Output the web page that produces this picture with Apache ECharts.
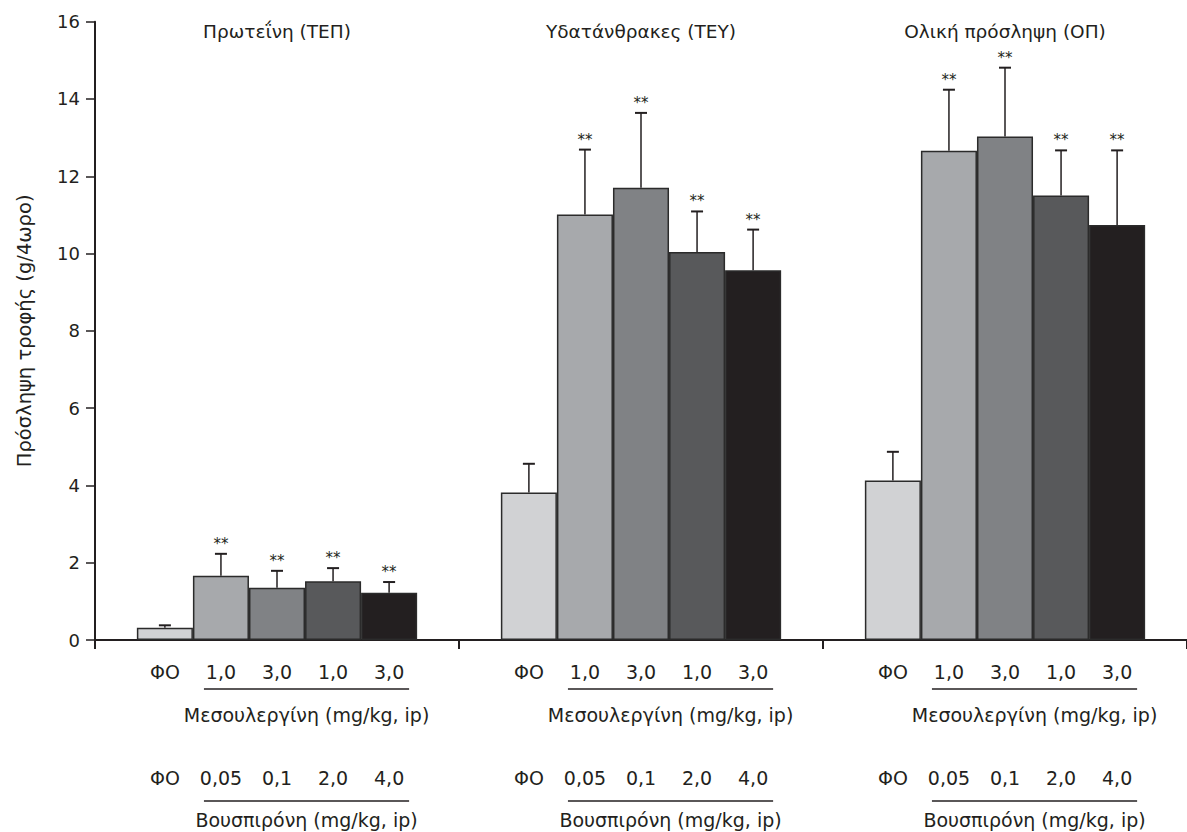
<!DOCTYPE html>
<html>
<head>
<meta charset="utf-8">
<script src="https://cdn.jsdelivr.net/npm/echarts@6/dist/echarts.min.js"></script>
<style>
  html, body { margin: 0; padding: 0; background: #fff; }
  #chart { width: 1187px; height: 832px; }
</style>
</head>
<body>
<div id="chart"></div>
<script>
// ---- data ----------------------------------------------------------------
const groups = ['Πρωτεΐνη (ΤΕΠ)', 'Υδατάνθρακες (ΤΕΥ)', 'Ολική πρόσληψη (ΟΠ)'];

const seriesNames = [
  'ΦΟ',
  'Μεσουλεργίνη 1,0 / Βουσπιρόνη 0,05',
  'Μεσουλεργίνη 3,0 / Βουσπιρόνη 0,1',
  'Μεσουλεργίνη 1,0 / Βουσπιρόνη 2,0',
  'Μεσουλεργίνη 3,0 / Βουσπιρόνη 4,0'
];

// mean intake (g / 4 h) per group
const meanFO = [0.32, 3.82, 4.13];
const meanD1 = [1.66, 11.01, 12.66];
const meanD2 = [1.35, 11.70, 13.03];
const meanD3 = [1.52, 10.04, 11.50];
const meanD4 = [1.22, 9.57, 10.74];

// standard error per group
const semFO = [0.06, 0.74, 0.74];
const semD1 = [0.57, 1.68, 1.58];
const semD2 = [0.44, 1.94, 1.78];
const semD3 = [0.34, 1.05, 1.17];
const semD4 = [0.28, 1.05, 1.93];

const significance = ['', '**', '**', '**', '**'];

const mesDoses = ['ΦΟ', '1,0', '3,0', '1,0', '3,0'];
const busDoses = ['ΦΟ', '0,05', '0,1', '2,0', '4,0'];
const mesTitle = 'Μεσουλεργίνη (mg/kg, ip)';
const busTitle = 'Βουσπιρόνη (mg/kg, ip)';

const yMin = 0, yMax = 16, yStep = 2;
const yName = 'Πρόσληψη τροφής (g/4ωρο)';

// ---- style ---------------------------------------------------------------
const INK = '#231f20';
const FONT = 'DejaVu Sans';
const LABEL_SIZE = 19;
const TITLE_SIZE = 18.5;
const barColors = ['#d1d2d4', '#a7a9ac', '#808285', '#58595b', '#231f20'];
const CAT_GAP = 0.23;

const means = [meanFO, meanD1, meanD2, meanD3, meanD4];
const sems = [semFO, semD1, semD2, semD3, semD4];

// per-row layout below the axis (offsets from the zero line, px)
const rowLayout = [
  { doses: mesDoses, title: mesTitle, doseDy: 32, lineDy: 49, titleDy: 75 },
  { doses: busDoses, title: busTitle, doseDy: 138, lineDy: 161, titleDy: 180 }
];

function barCenters(api, g) {
  const band = api.size([1, 0])[0];
  const barW = band * (1 - CAT_GAP) / 5;
  const c = api.coord([g, 0])[0];
  return [0, 1, 2, 3, 4].map(i => c + (i - 2) * barW);
}

function renderError(params, api) {
  const g = api.value(0), i = api.value(1);
  const xs = barCenters(api, g);
  const x = xs[i];
  const yBase = api.coord([g, api.value(2)])[1];
  const yTop = api.coord([g, api.value(3)])[1];
  const children = [
    { type: 'line', shape: { x1: x, y1: yBase, x2: x, y2: yTop },
      style: { stroke: INK, lineWidth: 1.5 } },
    { type: 'line', shape: { x1: x - 6, y1: yTop, x2: x + 6, y2: yTop },
      style: { stroke: INK, lineWidth: 2 } }
  ];
  const mark = significance[i];
  if (mark) {
    children.push({ type: 'text', x: x, y: yTop - 10,
      style: { text: mark, fill: INK, font: '15px "' + FONT + '"', align: 'center', verticalAlign: 'middle' } });
  }
  return { type: 'group', children };
}

function txt(s, x, y, size) {
  return { type: 'text', x, y,
    style: { text: s, fill: INK, font: size + 'px "' + FONT + '"', align: 'center', verticalAlign: 'middle' } };
}

function renderGroupLabels(params, api) {
  const g = api.value(0);
  const xs = barCenters(api, g);
  const origin = api.coord([g, 0]);
  const top = api.coord([g, yMax]);
  const y0 = origin[1];
  const children = [txt(groups[g], origin[0], top[1] + 10, TITLE_SIZE)];
  rowLayout.forEach(row => {
    row.doses.forEach((d, i) => children.push(txt(d, xs[i], y0 + row.doseDy, LABEL_SIZE)));
    const x1 = xs[1] - 17, x2 = xs[4] + 20;
    children.push({ type: 'line', shape: { x1, y1: y0 + row.lineDy, x2, y2: y0 + row.lineDy },
      style: { stroke: INK, lineWidth: 1.5 } });
    children.push(txt(row.title, (x1 + x2) / 2, y0 + row.titleDy, LABEL_SIZE));
  });
  return { type: 'group', children };
}

const barSeries = means.map((vals, i) => ({
  name: seriesNames[i],
  type: 'bar',
  data: vals,
  barGap: '0%',
  barCategoryGap: (CAT_GAP * 100) + '%',
  itemStyle: { color: barColors[i], borderColor: '#2b2b2b', borderWidth: 1.5 },
  z: 2
}));

const errorData = [];
means.forEach((vals, i) => vals.forEach((m, g) => errorData.push([g, i, m, m + sems[i][g]])));

const chart = echarts.init(document.getElementById('chart'), null, { renderer: 'svg' });
chart.setOption({
  animation: false,
  backgroundColor: '#ffffff',
  textStyle: { fontFamily: FONT, color: INK },
  grid: { left: 95, right: -9, top: 21.7, bottom: 192, containLabel: false },
  xAxis: {
    type: 'category',
    data: groups,
    axisLine: { lineStyle: { color: INK, width: 2 } },
    axisTick: { show: true, length: 9, interval: 0, lineStyle: { color: INK, width: 2 } },
    axisLabel: { show: false },
    splitLine: { show: false }
  },
  yAxis: {
    type: 'value',
    min: yMin, max: yMax, interval: yStep,
    name: yName,
    nameLocation: 'middle',
    nameGap: 61,
    nameTextStyle: { fontFamily: FONT, fontSize: 19.5, color: INK },
    axisLine: { show: true, lineStyle: { color: INK, width: 2 } },
    axisTick: { show: true, length: 9, lineStyle: { color: INK, width: 1.5 } },
    axisLabel: { fontFamily: FONT, fontSize: 18, color: INK, margin: 15 },
    splitLine: { show: false }
  },
  series: barSeries.concat([
    {
      type: 'custom',
      name: 'error',
      data: errorData,
      encode: { x: 0, y: [2, 3] },
      renderItem: renderError,
      clip: false,
      z: 3
    },
    {
      type: 'custom',
      name: 'labels',
      data: groups.map((_, g) => [g, 0]),
      encode: { x: 0, y: 1 },
      renderItem: renderGroupLabels,
      clip: false,
      silent: true,
      z: 4
    }
  ])
});
</script>
</body>
</html>
